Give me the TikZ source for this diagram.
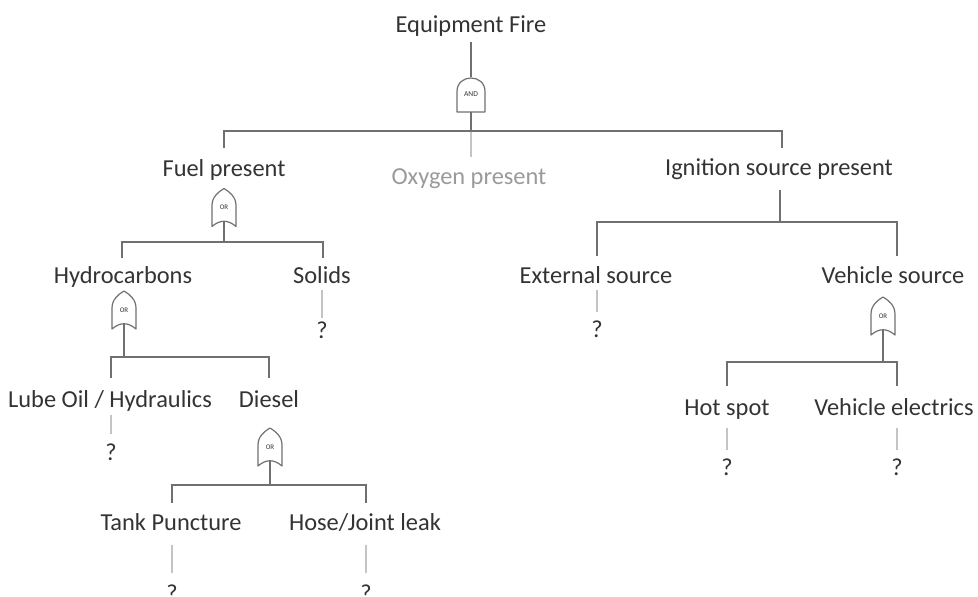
\documentclass[tikz,border=0pt]{standalone}
\usepackage{fontspec}
\setmainfont{Carlito}
\usetikzlibrary{calc}
\definecolor{txt}{HTML}{333333}
\definecolor{oxy}{HTML}{9A9A9A}
\definecolor{conn}{HTML}{707070}
\definecolor{qconn}{HTML}{C4C4C4}
\newcommand\orgate[3]{%
  \node[gatebox] (#1) at (#2,#3) {OR};
  \draw[gateline,shift={(#1.center)}] (-12,19) -- (-12,-2) .. controls (-12,-11) and (-5,-16) .. (0,-19)
     .. controls (5,-16) and (12,-11) .. (12,-2) -- (12,19) .. controls (4,12) and (-4,12) .. cycle;
  \coordinate (#1o) at ($(#1.center)+(0,14)$);
  \coordinate (#1i) at ($(#1.center)+(0,-19)$);
}
\newcommand\andgate[3]{%
  \node[gatebox,font=\fontsize{7.5}{8}\selectfont] (#1) at (#2,#3) {AND};
  \draw[gateline,shift={(#1.center)}] (-14,17.5) -- (-14,-3) .. controls (-14,-21) and (14,-21) .. (14,-3) -- (14,17.5) -- cycle;
  \coordinate (#1o) at ($(#1.center)+(0,17.5)$);
  \coordinate (#1i) at ($(#1.center)+(0,-17.5)$);
}
\begin{document}
\begin{tikzpicture}[x=1pt,y=-1pt,
  lbl/.style={font=\fontsize{24.4}{28}\selectfont, text=txt, inner sep=0pt, anchor=base},
  gatebox/.style={font=\fontsize{7}{8}\selectfont, text=txt, inner sep=0pt, minimum width=24pt, minimum height=38pt},
  gateline/.style={draw=conn, line width=1.2pt, line join=round},
  cline/.style={draw=conn, line width=1.6pt},
  qline/.style={draw=qconn, line width=1.3pt},
  oline/.style={draw=qconn, line width=1.4pt}]
\useasboundingbox (0,0) rectangle (978,597);

% texts
\node[lbl] (ef) at (471,32) {Equipment Fire};
\node[lbl] (fuel) at (224,176) {Fuel present};
\node[lbl,text=oxy] (oxy) at (469,184) {Oxygen present};
\node[lbl] (ign) at (779,175) {Ignition source present};
\node[lbl] (hyd) at (123,283) {Hydrocarbons};
\node[lbl] (sol) at (322,283) {Solids};
\node[lbl] (ext) at (596,283) {External source};
\node[lbl] (veh) at (893,283) {Vehicle source};
\node[lbl] (lube) at (110,407) {Lube Oil / Hydraulics};
\node[lbl] (dies) at (269,407) {Diesel};
\node[lbl] (hot) at (727,415) {Hot spot};
\node[lbl] (elec) at (894,415) {Vehicle electrics};
\node[lbl] (tank) at (171,530) {Tank Puncture};
\node[lbl] (hose) at (365,530) {Hose/Joint leak};

\node[lbl] (qsol) at (322,338) {?};
\node[lbl] (qext) at (597,337) {?};
\node[lbl] (qlube) at (111,460) {?};
\node[lbl] (qhot) at (727,475) {?};
\node[lbl] (qelec) at (897,475) {?};
\node[lbl] (qtank) at (172,601) {?};
\node[lbl] (qhose) at (366,601) {?};

% gates
\andgate{gand}{471}{94.5}
\orgate{gfuel}{224}{207.5}
\orgate{ghyd}{124}{310}
\orgate{gdies}{270}{447}
\orgate{gveh}{883}{316}

% coordinates
\coordinate (b0) at (471,131);
\coordinate (fuelT) at (224,148);
\coordinate (ignT) at (782,148);
\coordinate (oxyT) at (471,157);
\coordinate (ignB) at (780,190);
\coordinate (b1) at (780,222);
\coordinate (extT) at (597,256);
\coordinate (vehT) at (897,256);
\coordinate (b2) at (224,242);
\coordinate (hydT) at (122,258);
\coordinate (solT) at (323,258);
\coordinate (b3) at (124,357);
\coordinate (lubeT) at (111,378);
\coordinate (diesT) at (269,378);
\coordinate (b4) at (270,485);
\coordinate (tankT) at (172,503);
\coordinate (hoseT) at (366,503);
\coordinate (b5) at (883,362);
\coordinate (hotT) at (727,386);
\coordinate (elecT) at (897,386);

% connectors
\draw[cline] (471,42) -- (gandi);
\draw[cline] (gando) -- (b0);
\draw[oline] (b0) -- (oxyT);
\draw[cline] (fuelT) |- (b0) -| (ignT);

\draw[cline] (ignB) -- (b1);
\draw[cline] (extT) |- (b1) -| (vehT);

\draw[cline] (gfuelo) -- (b2);
\draw[cline] (hydT) |- (b2) -| (solT);

\draw[cline] (ghydo) -- (b3);
\draw[cline] (lubeT) |- (b3) -| (diesT);

\draw[cline] (gdieso) -- (b4);
\draw[cline] (tankT) |- (b4) -| (hoseT);

\draw[cline] (gveho) -- (b5);
\draw[cline] (hotT) |- (b5) -| (elecT);

% question connectors
\draw[qline] (322,290) -- (322,318);
\draw[qline] (597,290) -- (597,312);
\draw[qline] (111,415) -- (111,434);
\draw[qline] (727,428) -- (727,450);
\draw[qline] (897,428) -- (897,450);
\draw[qline] (172,545) -- (172,573);
\draw[qline] (366,545) -- (366,573);
\end{tikzpicture}
\end{document}
